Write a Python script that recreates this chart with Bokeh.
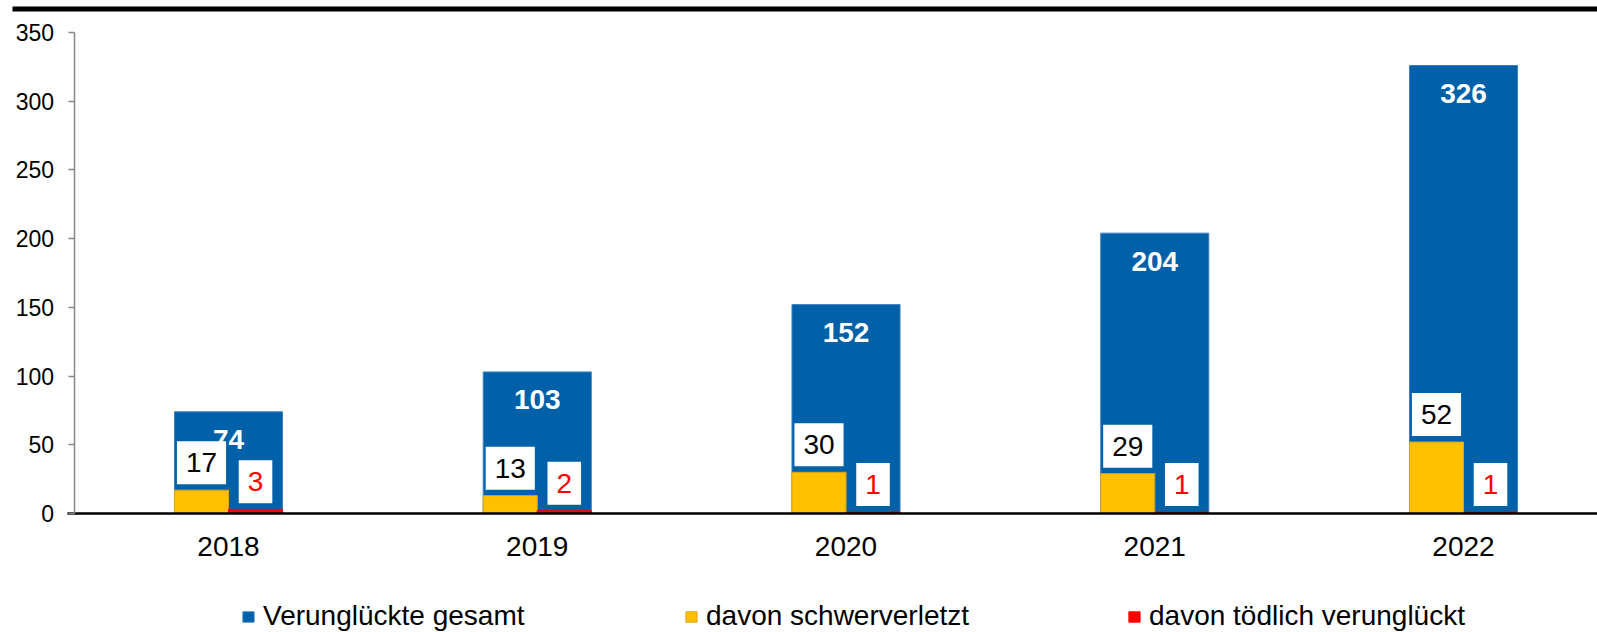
from bokeh.plotting import figure
from bokeh.models import (ColumnDataSource, LabelSet, Label, Legend, LegendItem,
                          FixedTicker, Range1d, BoxAnnotation)
from bokeh.core.properties import value
from bokeh.embed import file_html
from bokeh.resources import INLINE

# ---- data ----
years = ["2018", "2019", "2020", "2021", "2022"]
gesamt = [74, 103, 152, 204, 326]
schwer = [17, 13, 30, 29, 52]
toedlich = [3, 2, 1, 1, 1]
series_names = ["Verunglückte gesamt", "davon schwerverletzt", "davon tödlich verunglückt"]
y_ticks = [0, 50, 100, 150, 200, 250, 300, 350]

BLUE = "#0061A8"
YELLOW = "#FFC000"
RED = "#FF0000"
FONT = "Liberation Sans"

idx = list(range(len(years)))
half = 0.175
xl = [i - half / 2 for i in idx]
xr = [i + half / 2 for i in idx]
src = ColumnDataSource(dict(
    x=idx, xl=xl, xr=xr,
    gesamt=gesamt, schwer=schwer, toedlich=toedlich,
    gesamt_t=[str(v) for v in gesamt],
))

W, H = 1597, 632
p = figure(width=W, height=H, output_backend="svg", toolbar_location=None,
           x_range=Range1d(-0.7385, 4.434), y_range=Range1d(-86.6, 373.3),
           min_border_left=0, min_border_right=0, min_border_top=0,
           min_border_bottom=0)
p.outline_line_color = None
p.xgrid.visible = False
p.ygrid.visible = False
p.background_fill_color = "white"
p.border_fill_color = "white"

r_blue = p.vbar(x="x", top="gesamt", width=2 * half, source=src,
                fill_color=BLUE, line_color="#3D7FC0", line_width=1)
r_yel = p.vbar(x="xl", top="schwer", width=half, source=src,
               fill_color=YELLOW, line_color="#D9A520", line_width=1)
r_red = p.vbar(x="xr", top="toedlich", width=half, source=src,
               fill_color=RED, line_color=RED, line_width=1)

# axes (placed inside the frame at fixed data positions)
ya = p.yaxis[0]
ya.fixed_location = -0.5
ya.bounds = (0, 350)
ya.ticker = FixedTicker(ticks=y_ticks)
ya.major_label_text_font = FONT
ya.major_label_text_font_size = "23px"
ya.major_label_text_color = "black"
ya.axis_line_color = "#888888"
ya.axis_line_width = 1.5
ya.major_tick_line_color = "#888888"
ya.major_tick_line_width = 1.5
ya.major_tick_out = 6
ya.major_tick_in = 0
ya.minor_tick_line_color = None
ya.major_label_standoff = 14

xa = p.xaxis[0]
xa.fixed_location = 0
xa.bounds = (-0.52, 4.434)
xa.ticker = FixedTicker(ticks=idx)
xa.major_label_overrides = {i: y for i, y in zip(idx, years)}
xa.major_label_text_font = FONT
xa.major_label_text_font_size = "28px"
xa.major_label_text_color = "black"
xa.axis_line_color = "black"
xa.axis_line_width = 2.5
xa.major_tick_line_color = None
xa.minor_tick_line_color = None
xa.major_label_standoff = 18

# labels
lab_total = LabelSet(x="x", y="gesamt", text="gesamt_t", source=src,
                     text_font=value(FONT), text_font_size="28px",
                     text_font_style="bold",
                     text_color="white", text_align="center", text_baseline="middle",
                     y_offset=-28)
p.add_layout(lab_total)
for xs, vals, col in [(xl, schwer, "black"), (xr, toedlich, RED)]:
    for xv, v in zip(xs, vals):
        p.add_layout(Label(x=xv, y=v, text=str(v), text_font=FONT,
                           text_font_size="28px", text_color=col,
                           text_align="center", text_baseline="bottom",
                           y_offset=11, background_fill_color="white",
                           border_line_color="white", border_line_width=10,
                           border_line_join="miter",
                           padding=(4, 7)))

# top rule
p.add_layout(BoxAnnotation(left=12, right=W, top=6, bottom=11,
                           left_units="canvas", right_units="canvas",
                           top_units="canvas", bottom_units="canvas",
                           fill_color="black", fill_alpha=1, line_color=None,
                           level="overlay"))

# legend
lg = Legend(items=[LegendItem(label=n, renderers=[r])
                   for n, r in zip(series_names, [r_blue, r_yel, r_red])],
            location=(241, 0), orientation="horizontal",
            label_text_font=FONT, label_text_font_size="28px",
            label_text_color="black", glyph_width=14, glyph_height=13,
            label_standoff=8, label_width=300, spacing=121,
            padding=0, margin=0,
            border_line_color=None, background_fill_alpha=0)
p.add_layout(lg, "center")

open("out.html", "w").write(file_html(p, INLINE))
